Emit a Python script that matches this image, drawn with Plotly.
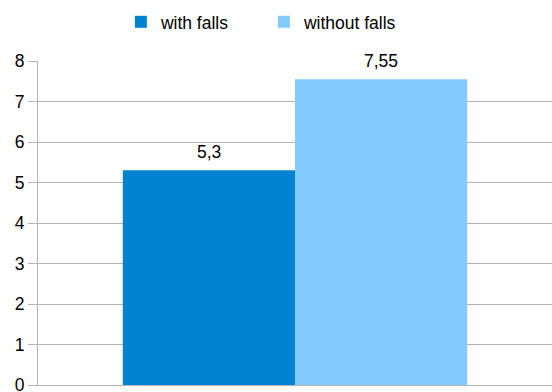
import plotly.graph_objects as go

categories = [""]
series_names = ["with falls", "without falls"]
with_falls = [5.3]
without_falls = [7.55]
colors = ["#0084D1", "#83CAFF"]
y_ticks = [0, 1, 2, 3, 4, 5, 6, 7, 8]


def fmt(v):
    return f"{v:g}".replace(".", ",")


fig = go.Figure()
series = [with_falls, without_falls]
for name, vals, col in zip(series_names, series, colors):
    fig.add_trace(go.Bar(
        x=categories, y=vals, name=name, marker_color=col, marker_line_width=0,
    ))

# value labels placed above each bar (offset half a bar width left/right of category center)
for i, vals in enumerate(series):
    for j, v in enumerate(vals):
        fig.add_annotation(
            x=j, y=v, text=fmt(v), showarrow=False,
            xshift=(-86 if i == 0 else 86), yanchor="bottom", yshift=6,
            font=dict(family="Liberation Sans, Arial", size=17.5, color="#000000"),
        )

fig.update_layout(
    width=552, height=392,
    margin=dict(l=38, r=0, t=61, b=7, autoexpand=False),
    paper_bgcolor="white", plot_bgcolor="white",
    barmode="group", bargap=0.33, bargroupgap=0,
    font=dict(family="Liberation Sans, Arial", size=17.5, color="#000000"),
    showlegend=True,
    legend=dict(orientation="h", xref="container", x=0.219, xanchor="left",
                yref="container", y=0.99, yanchor="top",
                font=dict(size=17.5), itemwidth=30, entrywidth=98,
                tracegroupgap=0),
    xaxis=dict(type="category", range=[-0.5, len(categories) - 0.5],
               showticklabels=False, showline=True, linecolor="#b3b3b3", linewidth=1,
               showgrid=False, ticks=""),
    yaxis=dict(range=[-0.0001, 8], tickvals=y_ticks, showgrid=True, gridcolor="#b3b3b3",
               gridwidth=1, showline=True, linecolor="#b3b3b3", linewidth=1,
               ticks="outside", ticklen=9, tickcolor="#b3b3b3", zeroline=False,
               ticklabeloverflow="allow", tickfont=dict(size=17.5)),
)

fig.write_html("out.html")
